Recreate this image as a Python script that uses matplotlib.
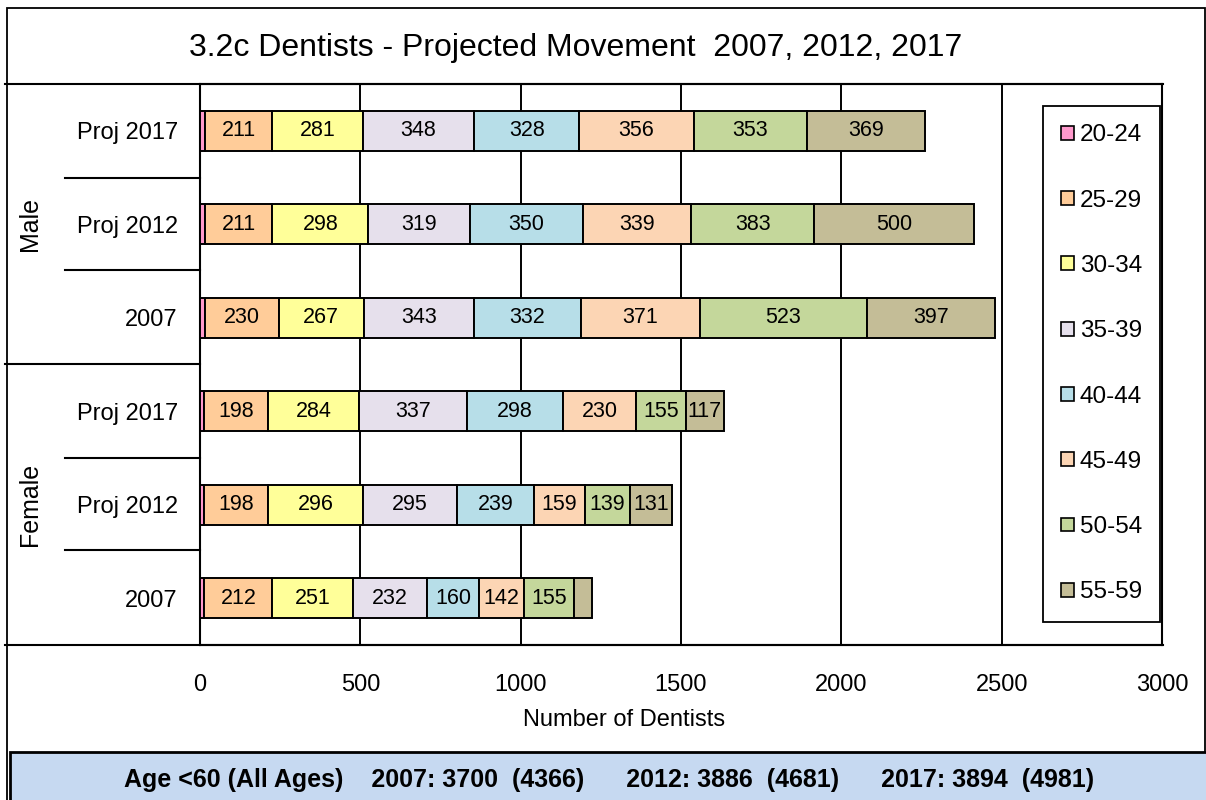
import matplotlib
matplotlib.use('Agg')
import matplotlib.pyplot as plt
from matplotlib.lines import Line2D
from matplotlib.patches import Rectangle, Patch
import numpy as np

plt.rcParams['font.family'] = ['Liberation Sans', 'DejaVu Sans']

title = '3.2c Dentists - Projected Movement  2007, 2012, 2017'
categories = ['Proj 2017', 'Proj 2012', '2007', 'Proj 2017', 'Proj 2012', '2007']
groups = ['Male', 'Female']
age_bands = ['20-24', '25-29', '30-34', '35-39', '40-44', '45-49', '50-54', '55-59']
# category order: Male P2017, Male P2012, Male 2007, Female P2017, Female P2012, Female 2007
age_20_24 = [15, 15, 15, 14, 14, 14]
age_25_29 = [211, 211, 230, 198, 198, 212]
age_30_34 = [281, 298, 267, 284, 296, 251]
age_35_39 = [348, 319, 343, 337, 295, 232]
age_40_44 = [328, 350, 332, 298, 239, 160]
age_45_49 = [356, 339, 371, 230, 159, 142]
age_50_54 = [353, 383, 523, 155, 139, 155]
age_55_59 = [369, 500, 397, 117, 131, 56]
x_ticks = [0, 500, 1000, 1500, 2000, 2500, 3000]
x_label = 'Number of Dentists'
footer = 'Age <60 (All Ages)    2007: 3700  (4366)      2012: 3886  (4681)      2017: 3894  (4981)'

series = [age_20_24, age_25_29, age_30_34, age_35_39, age_40_44, age_45_49, age_50_54, age_55_59]
colors = ['#FF99CC', '#FFCC99', '#FFFF99', '#E6E0EC', '#B7DEE8', '#FCD5B4', '#C4D79B', '#C4BD97']

W, H = 1206, 800
fig = plt.figure(figsize=(W / 100, H / 100), dpi=100)

def fx(px):
    return px / W

def fy(py):
    return 1 - py / H

ax = fig.add_axes([fx(200), fy(645), fx(1162) - fx(200), fy(84) - fy(645)])

y = np.arange(len(categories))
left = np.zeros(len(categories))
for vals, col, lab in zip(series, colors, age_bands):
    vals = np.array(vals, dtype=float)
    bars = ax.barh(y, vals, left=left, height=0.43, color=col, edgecolor='black',
                   linewidth=1.4, label=lab, zorder=3)
    labels = [str(int(v)) if v >= 100 else '' for v in vals]
    ax.bar_label(bars, labels=labels, label_type='center', fontsize=15.5, zorder=4)
    left += vals

ax.set_xlim(0, 3000)
ax.set_ylim(len(categories) - 0.5, -0.5)
ax.set_xticks(x_ticks)
ax.set_xticklabels([str(t) for t in x_ticks], fontsize=17)
ax.set_yticks(y)
ax.set_yticklabels(categories, fontsize=17)
ax.tick_params(axis='x', length=0, pad=21)
ax.tick_params(axis='y', length=0, pad=16)
ax.xaxis.grid(True, color='black', linewidth=1.4, zorder=0)
ax.set_axisbelow(True)
for s in ax.spines.values():
    s.set_color('black')
    s.set_linewidth(1.5)

handles = [Patch(facecolor=c, edgecolor='black', linewidth=1.2) for c in colors]
leg = ax.legend(handles, age_bands, loc='upper left', bbox_to_anchor=(fx(1043), fy(106)),
                bbox_transform=fig.transFigure, fontsize=17.5, frameon=True, fancybox=False,
                edgecolor='black', framealpha=1, labelspacing=1.78, borderpad=0.76,
                handlelength=0.5, handleheight=0.5, handletextpad=0.25, borderaxespad=0)
leg.get_frame().set_linewidth(1.3)
leg.set_zorder(10)

def fline(x0, y0, x1, y1, lw=1.5, color='black'):
    fig.add_artist(Line2D([fx(x0), fx(x1)], [fy(y0), fy(y1)], transform=fig.transFigure,
                          color=color, linewidth=lw))

# category axis lines
fline(5, 84, 1163, 84)
fline(5, 364, 200, 364)
fline(5, 645, 1163, 645)
for yy in [178, 270, 458, 550]:
    fline(65, yy, 200, yy)

# outer chart border
fig.add_artist(Rectangle((fx(7), fy(805)), fx(1205) - fx(7), fy(8) - fy(805),
                         transform=fig.transFigure, fill=False, edgecolor='black', linewidth=1.3))

# group labels
fig.text(fx(30), fy(224), groups[0], rotation=90, ha='center', va='center', fontsize=18)
fig.text(fx(30), fy(504), groups[1], rotation=90, ha='center', va='center', fontsize=18)

# title
fig.text(fx(576), fy(48), title, ha='center', va='center', fontsize=23)

# x label
fig.text(fx(624), fy(720), x_label, ha='center', va='center', fontsize=17)

# footer box
fig.add_artist(Rectangle((fx(10), fy(810)), fx(1215) - fx(10), fy(752) - fy(810),
                         transform=fig.transFigure, facecolor='#C6D9F1', edgecolor='black',
                         linewidth=2))
fig.text(fx(609), fy(780), footer, ha='center', va='center', fontsize=18, fontweight='bold')

fig.savefig('out.png', dpi=100)
